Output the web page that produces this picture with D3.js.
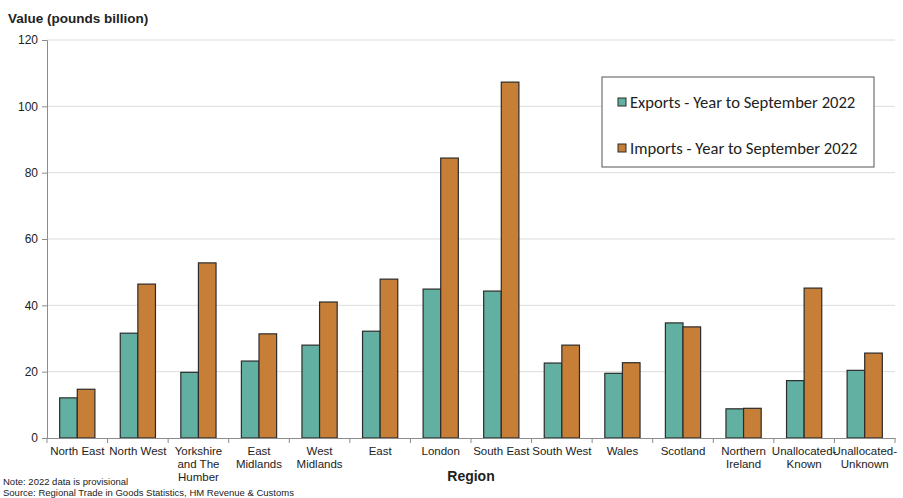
<!DOCTYPE html>
<html>
<head>
<meta charset="utf-8">
<script src="https://d3js.org/d3.v7.min.js"></script>
<style>
  body { margin: 0; background: #fff; }
  text { font-family: "Liberation Sans", Arial, sans-serif; }
</style>
</head>
<body>
<div id="chart"></div>
<script>
// data
var regions = [["North East"], ["North West"], ["Yorkshire", "and The", "Humber"], ["East", "Midlands"],
  ["West", "Midlands"], ["East"], ["London"], ["South East"], ["South West"], ["Wales"], ["Scotland"],
  ["Northern", "Ireland"], ["Unallocated-", "Known"], ["Unallocated-", "Unknown"]];
var exportsVals = [12.1, 31.6, 19.8, 23.2, 28.0, 32.2, 44.9, 44.3, 22.6, 19.5, 34.7, 8.8, 17.3, 20.4];
var importsVals = [14.7, 46.4, 52.8, 31.4, 41.0, 47.9, 84.4, 107.3, 28.0, 22.7, 33.5, 8.95, 45.2, 25.6];
var seriesNames = ["Exports - Year to September 2022", "Imports - Year to September 2022"];
var yTicks = [0, 20, 40, 60, 80, 100, 120];

var colors = ["#62b0a1", "#c77f37"];

var W = 903, H = 498;
var margin = {top: 40, right: 8, bottom: 60, left: 47},
    width = W - margin.left - margin.right,
    height = H - margin.top - margin.bottom;

var svg = d3.select("#chart")
  .append("svg")
    .attr("width", W)
    .attr("height", H);

var g = svg.append("g")
    .attr("transform", "translate(" + margin.left + "," + margin.top + ")");

var keys = regions.map(function(d) { return d.join(" "); });

var x = d3.scaleBand()
  .domain(keys)
  .range([0, width]);

var x1 = d3.scaleBand()
  .domain([0, 1])
  .range([0, x.bandwidth()])
  .paddingOuter(0.72)
  .paddingInner(0);

var y = d3.scaleLinear()
  .domain([0, 120])
  .range([height, 0]);

// gridlines
g.append("g")
  .selectAll("line")
  .data(yTicks.slice(1))
  .enter()
  .append("line")
    .attr("x1", 0)
    .attr("x2", width)
    .attr("y1", function(d) { return y(d); })
    .attr("y2", function(d) { return y(d); })
    .attr("stroke", "#dcdcdc")
    .attr("stroke-width", 1);

// bars
var groups = g.selectAll(".grp")
  .data(keys)
  .enter()
  .append("g")
    .attr("transform", function(d) { return "translate(" + x(d) + ",0)"; });

groups.selectAll("rect")
  .data(function(d, i) { return [exportsVals[i], importsVals[i]]; })
  .enter()
  .append("rect")
    .attr("x", function(d, j) { return x1(j); })
    .attr("y", function(d) { return y(d); })
    .attr("width", x1.bandwidth())
    .attr("height", function(d) { return height - y(d); })
    .attr("fill", function(d, j) { return colors[j]; })
    .attr("stroke", "#2b2b2b")
    .attr("stroke-width", 1.2);

// y axis
var yAxis = g.append("g")
  .call(d3.axisLeft(y).tickValues(yTicks).tickSize(5).tickPadding(4));
yAxis.select(".domain").attr("stroke", "#8c8c8c");
yAxis.selectAll(".tick line").attr("stroke", "#8c8c8c");
yAxis.selectAll("text")
  .style("font-size", "12px")
  .attr("fill", "#222");

// x axis
var xAxis = g.append("g")
  .attr("transform", "translate(0," + height + ")")
  .call(d3.axisBottom(x).tickSize(0).tickFormat(""));
xAxis.select(".domain").attr("stroke", "#8c8c8c");

// separator ticks between categories
xAxis.selectAll(".sep")
  .data(d3.range(regions.length + 1))
  .enter()
  .append("line")
    .attr("x1", function(i) { return i * x.step(); })
    .attr("x2", function(i) { return i * x.step(); })
    .attr("y1", 0)
    .attr("y2", 5)
    .attr("stroke", "#8c8c8c");

// multi-line category labels
xAxis.selectAll(".lbl")
  .data(regions)
  .enter()
  .append("text")
    .attr("text-anchor", "middle")
    .attr("fill", "#222")
    .style("font-size", "11.5px")
    .attr("transform", function(d, i) { return "translate(" + (x(keys[i]) + x.bandwidth() / 2) + ",17)"; })
  .selectAll("tspan")
  .data(function(d) { return d; })
  .enter()
  .append("tspan")
    .attr("x", 0)
    .attr("dy", function(d, k) { return k === 0 ? 0 : 13; })
    .text(function(d) { return d; });

// titles
svg.append("text")
  .attr("x", 8)
  .attr("y", 23)
  .style("font-size", "13.5px")
  .style("font-weight", "bold")
  .attr("fill", "#222")
  .text("Value (pounds billion)");

svg.append("text")
  .attr("x", margin.left + width / 2)
  .attr("y", 481)
  .attr("text-anchor", "middle")
  .style("font-size", "14px")
  .style("font-weight", "bold")
  .attr("fill", "#222")
  .text("Region");

svg.append("text")
  .attr("x", 3)
  .attr("y", 485)
  .style("font-size", "9.5px")
  .attr("fill", "#222")
  .text("Note: 2022 data is provisional");

svg.append("text")
  .attr("x", 3)
  .attr("y", 496)
  .style("font-size", "9.5px")
  .attr("fill", "#222")
  .text("Source: Regional Trade in Goods Statistics, HM Revenue  & Customs");

// legend
var legend = svg.append("g")
  .attr("transform", "translate(602,77)");

legend.append("rect")
  .attr("width", 272)
  .attr("height", 90)
  .attr("fill", "#fff")
  .attr("stroke", "#555")
  .attr("stroke-width", 1);

var items = legend.selectAll(".item")
  .data(seriesNames)
  .enter()
  .append("g")
    .attr("transform", function(d, i) { return "translate(16," + (25 + i * 46) + ")"; });

items.append("rect")
  .attr("x", 0)
  .attr("y", -4)
  .attr("width", 8)
  .attr("height", 8)
  .attr("fill", function(d, i) { return colors[i]; })
  .attr("stroke", "#2b2b2b");

items.append("text")
  .attr("x", 12)
  .attr("y", 0)
  .attr("dy", "0.35em")
  .style("font-family", "Carlito, 'Open Sans', sans-serif")
  .style("font-size", "16.6px")
  .attr("fill", "#222")
  .text(function(d) { return d; });
</script>
</body>
</html>
